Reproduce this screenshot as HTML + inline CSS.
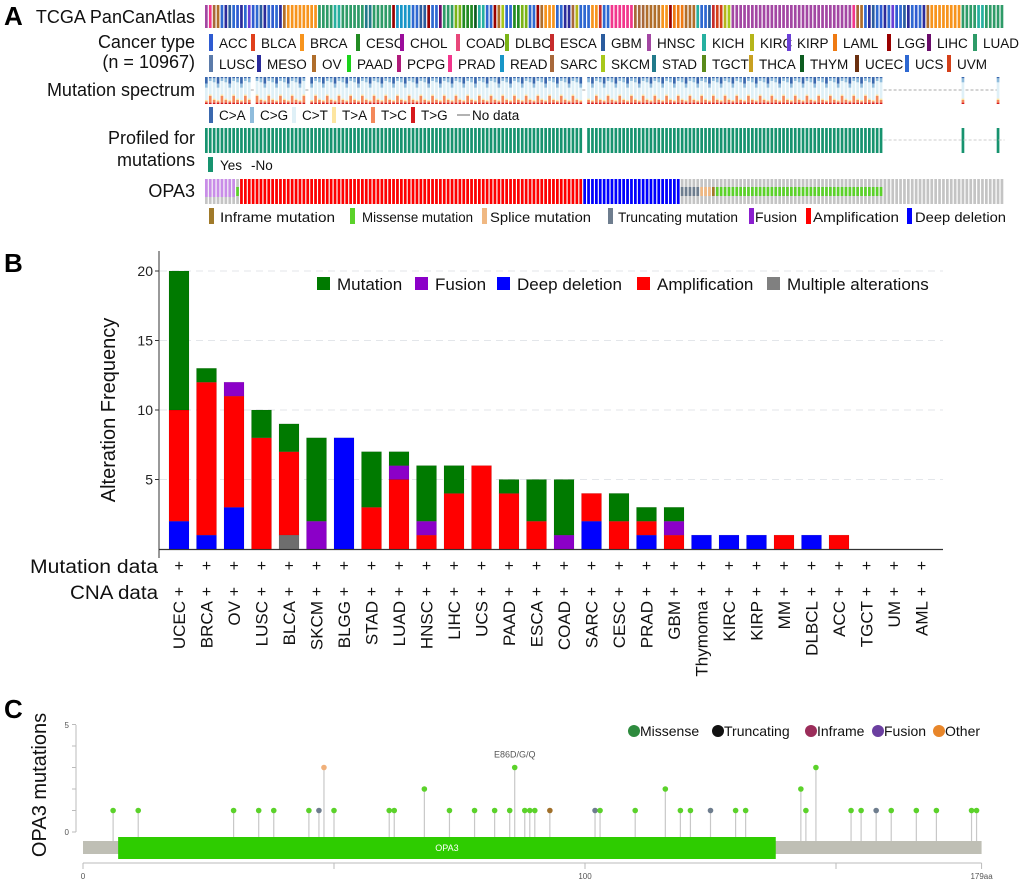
<!DOCTYPE html>
<html><head><meta charset="utf-8"><style>
html,body{margin:0;padding:0;background:#fff;}
body{width:1020px;height:884px;overflow:hidden;font-family:"Liberation Sans",sans-serif;}
svg{display:block;}
text{font-family:"Liberation Sans",sans-serif;}
</style></head><body>
<svg id="fig" width="1020" height="884" viewBox="0 0 1020 884" xmlns="http://www.w3.org/2000/svg">
<g id="panelA"></g>
<g id="panelB"></g>
<g id="panelC"></g>
</svg>
<script>
// ---------- Panel A data ----------
const cancerCodes = ["ACC","BLCA","BRCA","CESC","CHOL","COAD","DLBC","ESCA","GBM","HNSC","KICH","KIRC","KIRP","LAML","LGG","LIHC","LUAD","LUSC","MESO","OV","PAAD","PCPG","PRAD","READ","SARC","SKCM","STAD","TGCT","THCA","THYM","UCEC","UCS","UVM"];
const cancerColors = ["#2e5bd1","#e0401c","#f7941d","#228b22","#9b0d9b","#e8477a","#7ab317","#c62c2c","#2b5c9e","#a347a3","#26b0a0","#b5b51a","#6a3fd6","#ef7a12","#990000","#6b0c6b","#2e9b68","#5b7baa","#2b2b9b","#b06e2b","#1bd31b","#b01b7b","#f2368c","#1896c8","#a8683a","#a8c81a","#217a8a","#5a8a1a","#c8a020","#0d5c20","#6b3010","#2e68d1","#d4401a"];
const legendRow1X = [209,251,300,356,400,456,505,550,601,647,702,750,787,833,887,927,973];
const legendRow2X = [209,257,312,347,397,448,500,550,601,652,702,749,800,855,905,947];
const trackSegments = [["HNSC",1],["PRAD",1],["SARC",1],["OV",1],["UCS",1],["MESO",1],["GBM",1],["UCS",1],["ACC",1],["MESO",1],["UCS",1],["KIRP",1],["ACC",1],["UCS",1],["GBM",1],["MESO",1],["UCS",1],["ACC",1],["UCS",1],["MESO",1],["OV",1],["BRCA",8],["LUAD",4],["KICH",2],["LUAD",6],["STAD",2],["LUAD",5],["LGG",1],["READ",4],["UCS",2],["GBM",2],["LGG",1],["UCS",2],["LIHC",1],["LUAD",3],["DLBC",2],["CESC",3],["THYM",1],["KICH",2],["UCS",2],["LGG",1],["OV",1],["SKCM",1],["UCS",2],["CESC",2],["DLBC",2],["UCS",2],["LGG",1],["OV",1],["BRCA",3],["UCS",2],["MESO",2],["SARC",1],["KIRC",1],["UCS",3],["BRCA",2],["ESCA",1],["UCS",2],["PRAD",6],["SARC",3],["OV",4],["BRCA",2],["LGG",1],["LAML",3],["OV",3],["KICH",1],["UCS",2],["GBM",1],["ESCA",1],["UVM",2],["KIRC",1],["SKCM",1],["HNSC",30]];
const specEnd = 173, specExtra = [194,203], specGaps = [12,26,97];
const specPatterns = [[0.25,0.15,0.45,0.05,0.05,0.05],[0.1,0.1,0.6,0.05,0.1,0.05],[0.35,0.1,0.4,0.05,0.05,0.05],[0.05,0.15,0.6,0.05,0.1,0.05],[0.2,0.05,0.55,0.05,0.1,0.05],[0.45,0.1,0.3,0.05,0.05,0.05],[0.15,0.2,0.5,0.05,0.05,0.05],[0.05,0.1,0.5,0.05,0.25,0.05],[0.3,0.05,0.5,0.05,0.05,0.05],[0.1,0.15,0.55,0.05,0.05,0.1],[0.6,0.05,0.25,0.03,0.04,0.03]];
const specColors = ["#3a68ae","#8fbcdc","#dff0f7","#fde5a0","#f4885a","#d7191c"];
const specLabels = ["C>A","C>G","C>T","T>A","T>C","T>G"];
const specLegendX = [209,250,292,332,371,411];
const opa3Runs = [["fusion",8],["missense",1],["amp",88],["del",25],["trunc",5],["splice",3],["inframe",1],["missense",43],["none",31]];
const altColors = {inframe:"#a07a2a",missense:"#5bd22a",splice:"#f0b882",trunc:"#6e7d8e",fusion:"#c98ce8",amp:"#ff0000",del:"#0000ff"};
const altLegend = [["Inframe mutation","#a07a2a",209,220,115],["Missense mutation","#5bd22a",350,362,111],["Splice mutation","#f0b882",482,490,101],["Truncating mutation","#6e7d8e",608,618,120],["Fusion","#8b1fcf",749,755,42],["Amplification","#ff0000",806,813,86],["Deep deletion","#0000ff",907,915,91]];

// ---------- Panel B data ----------
const categories = ["UCEC","BRCA","OV","LUSC","BLCA","SKCM","BLGG","STAD","LUAD","HNSC","LIHC","UCS","PAAD","ESCA","COAD","SARC","CESC","PRAD","GBM","Thymoma","KIRC","KIRP","MM","DLBCL","ACC","TGCT","UM","AML"];
const multipleVals = [0,0,0,0,1,0,0,0,0,0,0,0,0,0,0,0,0,0,0,0,0,0,0,0,0,0,0,0];
const deletionVals = [2,1,3,0,0,0,8,0,0,0,0,0,0,0,0,2,0,1,0,1,1,1,0,1,0,0,0,0];
const amplificationVals = [8,11,8,8,6,0,0,3,5,1,4,6,4,2,0,2,2,1,1,0,0,0,1,0,1,0,0,0];
const fusionVals = [0,0,1,0,0,2,0,0,1,1,0,0,0,0,1,0,0,0,1,0,0,0,0,0,0,0,0,0];
const mutationVals = [10,1,0,2,2,6,0,4,1,4,2,0,1,3,4,0,2,1,1,0,0,0,0,0,0,0,0,0];
const yTicksB = [5,10,15,20];

// ---------- Panel C data ----------
const mutPositions = [6,11,30,35,38,45,47,48,50,61,62,68,73,78,82,85,86,88,89,90,93,102,103,110,116,119,121,125,130,132,143,144,146,153,155,158,161,166,170,177,178];
const mutCounts =    [1,1,1,1,1,1,1,3,1,1,1,2,1,1,1,1,3,1,1,1,1,1,1,1,2,1,1,1,1,1,2,1,3,1,1,1,1,1,1,1,1];
const mutTypes =     ["m","m","m","m","m","m","t","o","m","m","m","m","m","m","m","m","m","m","m","m","i","t","m","m","m","m","m","t","m","m","m","m","m","m","m","t","m","m","m","m","m"];
const domainStart = 7, domainEnd = 138, proteinLen = 179;

const NS="http://www.w3.org/2000/svg";
function mk(parent,tag,attrs,txt){const e=document.createElementNS(NS,tag);for(const k in attrs)e.setAttribute(k,attrs[k]);if(txt!==undefined)e.textContent=txt;parent.appendChild(e);return e;}

// ================= Panel A =================
(function(){
const g=document.getElementById('panelA');
let t=mk(g,'text',{x:4,y:25,'font-size':26,'font-weight':'bold'},'A');


const labels=[["TCGA PanCanAtlas",23,"track-label-cancer"],["Cancer type",48,"track-label-cancer-type"],["(n = 10967)",68,"track-label-n"],["Mutation spectrum",96,"track-label-spectrum"],["Profiled for",144,"track-label-profiled"],["mutations",166,"track-label-profiled-2"],["OPA3",197,"track-label-opa3"]];
labels.forEach(l=>{const e=mk(g,'text',{x:195,y:l[1],'font-size':18,'text-anchor':'end',fill:'#111'},l[0]);

});
const x0=205,pitch=3.9,w=2.7;
const seq=[];trackSegments.forEach(s=>{for(let i=0;i<s[1];i++)seq.push(s[0]);});
const N=205;
for(let i=0;i<N;i++){const c=seq[i%seq.length];const r=mk(g,'rect',{x:x0+i*pitch,y:5,width:w,height:23,fill:cancerColors[cancerCodes.indexOf(c)]});

}
function leg(codes,xs,y){codes.forEach((c,i)=>{const gg=mk(g,'g',{});


mk(gg,'rect',{x:xs[i],y:y,width:4,height:17,fill:cancerColors[cancerCodes.indexOf(c)]});
mk(gg,'text',{x:xs[i]+10,y:y+14,'font-size':13.5,fill:'#111'},c);});}
leg(cancerCodes.slice(0,17),legendRow1X,34);
leg(cancerCodes.slice(17),legendRow2X,55);
const sy=77,sh=27;
for(let i=0;i<N;i++){
 const inData=(i<=specEnd&&specGaps.indexOf(i)<0)||specExtra.indexOf(i)>=0;
 if(!inData)continue;
 const p=specPatterns[(i*7+Math.floor(i/3))%specPatterns.length];
 const cg=mk(g,'g',{});
 
 
 let yy=sy;
 p.forEach((v,k)=>{const hh=v*sh;mk(cg,'rect',{x:x0+i*pitch,y:yy,width:w,height:hh,fill:specColors[k]});yy+=hh;});
}
[[x0+12*pitch-1,x0+12*pitch+4],[x0+26*pitch-1,x0+26*pitch+4],[x0+97*pitch-1,x0+97*pitch+4],[x0+174*pitch,x0+194*pitch],[x0+195*pitch,x0+203*pitch]].forEach(d=>{mk(g,'line',{x1:d[0],x2:d[1],y1:90,y2:90,stroke:'#aaa','stroke-dasharray':'3,2','stroke-width':1});});
specLabels.forEach((l,k)=>{const gg=mk(g,'g',{});


mk(gg,'rect',{x:specLegendX[k],y:107,width:4,height:16,fill:specColors[k]});
mk(gg,'text',{x:specLegendX[k]+10,y:120,'font-size':13.5,fill:'#111'},l);});
mk(g,'line',{x1:457,x2:470,y1:115,y2:115,stroke:'#999','stroke-width':1.5});
t=mk(g,'text',{x:472,y:120,'font-size':13.5,fill:'#111'},'No data');


for(let i=0;i<N;i++){
 const inData=(i<=specEnd&&i!==97)||specExtra.indexOf(i)>=0;
 if(!inData)continue;
 const r=mk(g,'rect',{x:x0+i*pitch,y:128,width:w,height:25,fill:'#17936f'});
 
 
}
mk(g,'line',{x1:x0+174*pitch,x2:x0+205*pitch,y1:140,y2:140,stroke:'#ccc','stroke-dasharray':'3,2'});
mk(g,'rect',{x:208,y:157,width:5,height:15,fill:'#17936f'});
t=mk(g,'text',{x:220,y:170,'font-size':13.5,fill:'#111'},'Yes');


t=mk(g,'text',{x:251,y:170,'font-size':13.5,fill:'#111'},'-No');


let idx=0;
opa3Runs.forEach(run=>{for(let k=0;k<run[1];k++){const i=idx++;const X=x0+i*pitch;
 const cg=mk(g,'g',{});
 
 
 mk(cg,'rect',{x:X,y:179,width:w,height:25,fill:'#c4c4c4'});
 const tp=run[0];
 if(tp==='amp'||tp==='del')mk(cg,'rect',{x:X,y:179,width:w,height:25,fill:altColors[tp]});
 else if(tp==='fusion')mk(cg,'rect',{x:X,y:179,width:w,height:18,fill:altColors[tp]});
 else if(tp!=='none')mk(cg,'rect',{x:X,y:187,width:w,height:9,fill:altColors[tp]});
}});
altLegend.forEach(a=>{const gg=mk(g,'g',{});


mk(gg,'rect',{x:a[2],y:208,width:5,height:16,fill:a[1]});
mk(gg,'text',{x:a[3],y:222,'font-size':14,fill:'#111',textLength:a[4],lengthAdjust:'spacingAndGlyphs'},a[0]);});
})();

// ================= Panel B =================
(function(){
const g=document.getElementById('panelB');
let t=mk(g,'text',{x:4,y:272,'font-size':26,'font-weight':'bold'},'B');


const y0=549,unit=13.9,left=169,pitch=27.5,bw=20;
const ys=v=>y0-v*unit, xs=i=>left+i*pitch;
yTicksB.forEach(v=>{mk(g,'line',{x1:160,x2:943,y1:ys(v),y2:ys(v),stroke:'#e3e6ea','stroke-dasharray':'7,5','stroke-width':1});
 mk(g,'line',{x1:155,x2:159,y1:ys(v),y2:ys(v),stroke:'#333'});
 const e=mk(g,'text',{x:153,y:ys(v)+5,'font-size':14,'text-anchor':'end',fill:'#222'},String(v));
 
 });
mk(g,'line',{x1:159,x2:159,y1:251,y2:558,stroke:'#333','stroke-width':1});
mk(g,'line',{x1:159,x2:943,y1:549.5,y2:549.5,stroke:'#333','stroke-width':1.3});
t=mk(g,'text',{x:0,y:0,'font-size':20,'text-anchor':'middle',transform:'translate(115,410) rotate(-90)',fill:'#111'},'Alteration Frequency');


const series=[[multipleVals,'#6e6e6e','multiple'],[deletionVals,'#0000ff','deletion'],[amplificationVals,'#ff0000','amplification'],[fusionVals,'#8b00c8','fusion'],[mutationVals,'#007a00','mutation']];
categories.forEach((c,i)=>{let base=0;
 series.forEach(s=>{const v=s[0][i];if(v>0){const r=mk(g,'rect',{x:xs(i),y:ys(base+v),width:bw,height:v*unit,fill:s[1],stroke:'rgba(0,0,0,0.15)','stroke-width':0.5});
 
 
 base+=v;}});
 const cx=xs(i)+bw/2;
 mk(g,'text',{x:cx,y:571,'font-size':16,'text-anchor':'middle',fill:'#111'},'+');
 mk(g,'text',{x:cx,y:597,'font-size':16,'text-anchor':'middle',fill:'#111'},'+');
 const l=mk(g,'text',{x:0,y:0,'font-size':17,'text-anchor':'end',transform:'translate('+(cx+6)+',601) rotate(-90)',fill:'#111'},c);
 
 
});
t=mk(g,'text',{x:158,y:573,'font-size':19,'text-anchor':'end',fill:'#111',textLength:128,lengthAdjust:'spacingAndGlyphs'},'Mutation data');


t=mk(g,'text',{x:158,y:599,'font-size':19,'text-anchor':'end',fill:'#111',textLength:88,lengthAdjust:'spacingAndGlyphs'},'CNA data');


const legB=[["Mutation","#007a00",317],["Fusion","#8b00c8",415],["Deep deletion","#0000ff",497],["Amplification","#ff0000",637],["Multiple alterations","#808080",767]];
legB.forEach(a=>{const gg=mk(g,'g',{});
 
 
 mk(gg,'rect',{x:a[2],y:277,width:13,height:13,fill:a[1]});
 mk(gg,'text',{x:a[2]+20,y:290,'font-size':17,fill:'#111'},a[0]);});
})();

// ================= Panel C =================
(function(){
const g=document.getElementById('panelC');
let t=mk(g,'text',{x:4,y:718,'font-size':26,'font-weight':'bold'},'C');


const xa=aa=>83+aa*5.02, yc=n=>832-n*21.5;
t=mk(g,'text',{x:0,y:0,'font-size':20,'text-anchor':'middle',transform:'translate(46,785) rotate(-90)',fill:'#111'},'OPA3 mutations');


mk(g,'line',{x1:76,x2:76,y1:725,y2:832,stroke:'#bbb'});
[0,1,2,3,4,5].forEach(n=>mk(g,'line',{x1:72,x2:76,y1:yc(n),y2:yc(n),stroke:'#bbb'}));
mk(g,'text',{x:69,y:728,'font-size':8,'text-anchor':'end',fill:'#555'},'5');
mk(g,'text',{x:69,y:835,'font-size':8,'text-anchor':'end',fill:'#555'},'0');
mutPositions.forEach((p,i)=>{const X=xa(p);
 const lg=mk(g,'g',{});
 
 
 mk(lg,'line',{x1:X,x2:X,y1:yc(mutCounts[i]),y2:841,stroke:'#c8c8c8','stroke-width':1.2});
 const col=mutTypes[i]==='m'?'#5bd22a':mutTypes[i]==='t'?'#6e7d8e':mutTypes[i]==='o'?'#f0b07a':'#a0702a';
 mk(lg,'circle',{cx:X,cy:yc(mutCounts[i]),r:2.8,fill:col});});
t=mk(g,'text',{x:xa(86),y:yc(3)-10,'font-size':9,'text-anchor':'middle',fill:'#555'},'E86D/G/Q');


const bb=mk(g,'rect',{x:xa(0),y:841,width:xa(proteinLen)-xa(0),height:13,fill:'#bfbfb5'});


const dm=mk(g,'rect',{x:xa(domainStart),y:837,width:xa(domainEnd)-xa(domainStart),height:22,fill:'#2ecc00'});


mk(g,'text',{x:(xa(domainStart)+xa(domainEnd))/2,y:851,'font-size':9,'text-anchor':'middle',fill:'#fff'},'OPA3');
mk(g,'line',{x1:xa(0),x2:xa(proteinLen),y1:863,y2:863,stroke:'#bbb'});
[0,50,100,150,179].forEach(v=>mk(g,'line',{x1:xa(v),x2:xa(v),y1:863,y2:869,stroke:'#bbb'}));
mk(g,'text',{x:xa(0),y:879,'font-size':8,'text-anchor':'middle',fill:'#555'},'0');
mk(g,'text',{x:xa(100),y:879,'font-size':8,'text-anchor':'middle',fill:'#555'},'100');
mk(g,'text',{x:xa(179),y:879,'font-size':8,'text-anchor':'middle',fill:'#555'},'179aa');
const legC=[["Missense","#2e8b3e",628],["Truncating","#111",712],["Inframe","#9b2d5a",805],["Fusion","#6b3fa0",872],["Other","#e8862a",933]];
legC.forEach(a=>{const gg=mk(g,'g',{});
 
 
 mk(gg,'circle',{cx:a[2]+6,cy:731,r:6,fill:a[1]});
 mk(gg,'text',{x:a[2]+12,y:736,'font-size':14,fill:'#111'},a[0]);});
})();
</script>
</body></html>
